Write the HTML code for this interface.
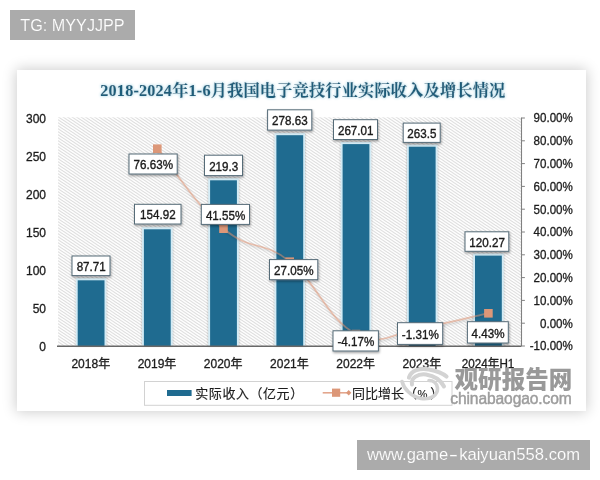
<!DOCTYPE html>
<html lang="zh"><head><meta charset="utf-8"><title>chart</title>
<style>
html,body{margin:0;padding:0;background:#fff;}
body{width:600px;height:480px;position:relative;overflow:hidden;font-family:"Liberation Sans","Noto Sans CJK SC",sans-serif;}
.tag{position:absolute;background:#ababab;color:#fff;white-space:nowrap;text-align:center;-webkit-text-stroke:0.15px #ababab;}
#t1{left:10px;top:10px;width:125px;height:30px;line-height:30px;font-size:16.2px;}
#t2{left:357px;top:440px;width:233px;height:30px;line-height:29px;font-size:16.6px;}
#t2 span{display:inline-block;width:11px;text-align:center;transform:scaleX(1.7);}
#card{position:absolute;left:17px;top:70px;width:569px;height:341px;background:#fff;box-shadow:0 0 13px 1px rgba(0,0,0,.2);}
svg{position:absolute;left:0;top:0;}
.ax{font-family:"Liberation Sans","Noto Sans CJK SC",sans-serif;font-size:12px;fill:#1c1c1c;stroke:#1c1c1c;stroke-width:0.3px;}
.xl{font-family:"Liberation Sans","Noto Sans CJK SC",sans-serif;font-size:12px;fill:#1c1c1c;stroke:#1c1c1c;stroke-width:0.3px;}
.dl{font-family:"Liberation Sans",sans-serif;font-size:12px;fill:#1a1a1a;stroke:#1a1a1a;stroke-width:0.35px;}
.ttl{font-family:"Liberation Serif","Noto Serif CJK SC",serif;font-weight:bold;font-size:16.2px;fill:#1e5d7a;stroke:#1e5d7a;stroke-width:0.2px;}
.lg{font-family:"Liberation Sans","Noto Sans CJK SC",sans-serif;font-size:13px;fill:#1c1c1c;stroke:#1c1c1c;stroke-width:0.15px;}
</style></head><body>
<div class="tag" id="t1">TG: MYYJJPP</div>
<div id="card"></div>
<svg width="600" height="480" viewBox="0 0 600 480">
<defs>
<pattern id="hatch" width="4.5" height="3" patternUnits="userSpaceOnUse">
<rect width="4.5" height="3" fill="#fff"/>
<path d="M-4.5,-3 L9,6 M-4.5,0 L4.5,6 M0,-3 L9,3" stroke="#d9d9d9" stroke-width="1"/>
</pattern>
<filter id="sh" x="-20%" y="-30%" width="140%" height="170%"><feDropShadow dx="0.6" dy="1.4" stdDeviation="1.1" flood-color="#000" flood-opacity="0.38"/></filter>
<filter id="bsh" x="-30%" y="-10%" width="160%" height="120%"><feDropShadow dx="0" dy="0" stdDeviation="0.9" flood-color="#000" flood-opacity="0.3"/></filter>
<filter id="lsh" x="-5%" y="-5%" width="110%" height="115%"><feDropShadow dx="0.5" dy="1.3" stdDeviation="0.8" flood-color="#000" flood-opacity="0.35"/></filter>
<filter id="glow" x="-5%" y="-50%" width="110%" height="200%"><feGaussianBlur in="SourceAlpha" stdDeviation="1.7" result="b"/><feFlood flood-color="#bfe3ef"/><feComposite in2="b" operator="in" result="g"/><feMerge><feMergeNode in="g"/><feMergeNode in="g"/><feMergeNode in="SourceGraphic"/></feMerge></filter>
</defs>

<rect x="58.0" y="117.3" width="463.5" height="228.7" fill="url(#hatch)"/>
<text class="ttl" x="100.3" y="95.6" textLength="405" lengthAdjust="spacing" filter="url(#glow)">2018-2024年1-6月我国电子竞技行业实际收入及增长情况</text>
<text class="ax" x="46" y="350.7" text-anchor="end">0</text>
<text class="ax" x="46" y="312.7" text-anchor="end">50</text>
<text class="ax" x="46" y="274.7" text-anchor="end">100</text>
<text class="ax" x="46" y="236.7" text-anchor="end">150</text>
<text class="ax" x="46" y="198.7" text-anchor="end">200</text>
<text class="ax" x="46" y="160.7" text-anchor="end">250</text>
<text class="ax" x="46" y="122.7" text-anchor="end">300</text>
<path d="M521.5,117.5 V346.0" stroke="#808080" stroke-width="1.1" fill="none"/>
<path d="M521.5,346.0 h3.4" stroke="#808080" stroke-width="1"/>
<text class="ax" transform="translate(572.8,350.4) scale(0.965,1)" text-anchor="end">-10.00%</text>
<path d="M521.5,323.2 h3.4" stroke="#808080" stroke-width="1"/>
<text class="ax" transform="translate(572.8,327.6) scale(0.965,1)" text-anchor="end">0.00%</text>
<path d="M521.5,300.4 h3.4" stroke="#808080" stroke-width="1"/>
<text class="ax" transform="translate(572.8,304.8) scale(0.965,1)" text-anchor="end">10.00%</text>
<path d="M521.5,277.6 h3.4" stroke="#808080" stroke-width="1"/>
<text class="ax" transform="translate(572.8,282.0) scale(0.965,1)" text-anchor="end">20.00%</text>
<path d="M521.5,254.8 h3.4" stroke="#808080" stroke-width="1"/>
<text class="ax" transform="translate(572.8,259.2) scale(0.965,1)" text-anchor="end">30.00%</text>
<path d="M521.5,232.0 h3.4" stroke="#808080" stroke-width="1"/>
<text class="ax" transform="translate(572.8,236.4) scale(0.965,1)" text-anchor="end">40.00%</text>
<path d="M521.5,209.2 h3.4" stroke="#808080" stroke-width="1"/>
<text class="ax" transform="translate(572.8,213.6) scale(0.965,1)" text-anchor="end">50.00%</text>
<path d="M521.5,186.4 h3.4" stroke="#808080" stroke-width="1"/>
<text class="ax" transform="translate(572.8,190.8) scale(0.965,1)" text-anchor="end">60.00%</text>
<path d="M521.5,163.6 h3.4" stroke="#808080" stroke-width="1"/>
<text class="ax" transform="translate(572.8,168.0) scale(0.965,1)" text-anchor="end">70.00%</text>
<path d="M521.5,140.8 h3.4" stroke="#808080" stroke-width="1"/>
<text class="ax" transform="translate(572.8,145.2) scale(0.965,1)" text-anchor="end">80.00%</text>
<path d="M521.5,118.0 h3.4" stroke="#808080" stroke-width="1"/>
<text class="ax" transform="translate(572.8,122.4) scale(0.965,1)" text-anchor="end">90.00%</text>
<rect x="75.9" y="278.3" width="30.400000000000002" height="67.7" fill="#d3ebf5" filter="url(#bsh)"/>
<rect x="77.7" y="280.3" width="26.8" height="65.7" fill="#1f6b90"/>
<rect x="142.1" y="227.3" width="30.400000000000002" height="118.7" fill="#d3ebf5" filter="url(#bsh)"/>
<rect x="143.9" y="229.3" width="26.8" height="116.7" fill="#1f6b90"/>
<rect x="208.3" y="178.3" width="30.400000000000002" height="167.7" fill="#d3ebf5" filter="url(#bsh)"/>
<rect x="210.1" y="180.3" width="26.8" height="165.7" fill="#1f6b90"/>
<rect x="274.6" y="133.2" width="30.400000000000002" height="212.8" fill="#d3ebf5" filter="url(#bsh)"/>
<rect x="276.4" y="135.2" width="26.8" height="210.8" fill="#1f6b90"/>
<rect x="340.8" y="142.1" width="30.400000000000002" height="203.9" fill="#d3ebf5" filter="url(#bsh)"/>
<rect x="342.6" y="144.1" width="26.8" height="201.9" fill="#1f6b90"/>
<rect x="407.0" y="144.7" width="30.400000000000002" height="201.3" fill="#d3ebf5" filter="url(#bsh)"/>
<rect x="408.8" y="146.7" width="26.8" height="199.3" fill="#1f6b90"/>
<rect x="473.2" y="253.6" width="30.400000000000002" height="92.4" fill="#d3ebf5" filter="url(#bsh)"/>
<rect x="475.0" y="255.6" width="26.8" height="90.4" fill="#1f6b90"/>
<path d="M57.0,346.2 H521.5" stroke="#686868" stroke-width="1.5"/>
<text class="xl" x="90.8" y="368.3" text-anchor="middle">2018年</text>
<text class="xl" x="157.0" y="368.3" text-anchor="middle">2019年</text>
<text class="xl" x="223.2" y="368.3" text-anchor="middle">2020年</text>
<text class="xl" x="289.4" y="368.3" text-anchor="middle">2021年</text>
<text class="xl" x="355.7" y="368.3" text-anchor="middle">2022年</text>
<text class="xl" x="421.9" y="368.3" text-anchor="middle">2023年</text>
<text class="xl" x="488.1" y="368.3" text-anchor="middle" textLength="52.5" lengthAdjust="spacingAndGlyphs">2024年H1</text>
<path d="M157.3,148.5 C171.1,165.1 195.9,204.9 223.5,228.5 C251.1,252.0 262.2,239.6 289.8,261.5 C317.3,283.5 328.4,320.2 356.0,333.9 C383.6,347.6 394.6,331.7 422.2,327.4 C449.8,323.1 474.6,316.1 488.4,313.1" stroke="#df9270" stroke-opacity="0.5" stroke-width="1.7" fill="none" filter="url(#lsh)"/>
<rect x="153.0" y="144.4" width="8.6" height="8.6" fill="#dc9778"/>
<rect x="219.2" y="224.4" width="8.6" height="8.6" fill="#dc9778"/>
<rect x="285.4" y="257.4" width="8.6" height="8.6" fill="#dc9778"/>
<rect x="351.7" y="329.8" width="8.6" height="8.6" fill="#dc9778"/>
<rect x="417.9" y="323.3" width="8.6" height="8.6" fill="#dc9778"/>
<rect x="484.1" y="309.0" width="8.6" height="8.6" fill="#dc9778"/>
<rect x="72" y="256" width="38" height="19.600000000000023" fill="#fff" stroke="#566c78" stroke-width="1" filter="url(#sh)"/>
<text class="dl" transform="translate(91.2,271.0) scale(0.97,1)" text-anchor="middle">87.71</text>
<rect x="134.5" y="204.3" width="46.5" height="19.69999999999999" fill="#fff" stroke="#566c78" stroke-width="1" filter="url(#sh)"/>
<text class="dl" transform="translate(157.9,219.3) scale(0.97,1)" text-anchor="middle">154.92</text>
<rect x="204.5" y="155.2" width="38.0" height="20.400000000000006" fill="#fff" stroke="#566c78" stroke-width="1" filter="url(#sh)"/>
<text class="dl" transform="translate(223.7,170.6) scale(0.97,1)" text-anchor="middle">219.3</text>
<rect x="267.6" y="109.8" width="44.19999999999999" height="20.299999999999997" fill="#fff" stroke="#566c78" stroke-width="1" filter="url(#sh)"/>
<text class="dl" transform="translate(289.9,125.1) scale(0.97,1)" text-anchor="middle">278.63</text>
<rect x="333.5" y="119.7" width="44.0" height="19.799999999999997" fill="#fff" stroke="#566c78" stroke-width="1" filter="url(#sh)"/>
<text class="dl" transform="translate(355.7,134.8) scale(0.97,1)" text-anchor="middle">267.01</text>
<rect x="403.2" y="123.1" width="37.0" height="19.30000000000001" fill="#fff" stroke="#566c78" stroke-width="1" filter="url(#sh)"/>
<text class="dl" transform="translate(421.9,137.9) scale(0.97,1)" text-anchor="middle">263.5</text>
<rect x="465" y="231.8" width="43.80000000000001" height="19.5" fill="#fff" stroke="#566c78" stroke-width="1" filter="url(#sh)"/>
<text class="dl" transform="translate(487.1,246.8) scale(0.97,1)" text-anchor="middle">120.27</text>
<rect x="129" y="154" width="48.19999999999999" height="20" fill="#fff" stroke="#566c78" stroke-width="1" filter="url(#sh)"/>
<text class="dl" transform="translate(153.3,169.2) scale(0.97,1)" text-anchor="middle">76.63%</text>
<rect x="201.3" y="204.4" width="48.19999999999999" height="20.0" fill="#fff" stroke="#566c78" stroke-width="1" filter="url(#sh)"/>
<text class="dl" transform="translate(225.6,219.6) scale(0.97,1)" text-anchor="middle">41.55%</text>
<rect x="269.5" y="259.6" width="48.30000000000001" height="20.099999999999966" fill="#fff" stroke="#566c78" stroke-width="1" filter="url(#sh)"/>
<text class="dl" transform="translate(293.8,274.8) scale(0.97,1)" text-anchor="middle">27.05%</text>
<rect x="333" y="330.8" width="45.39999999999998" height="20.19999999999999" fill="#fff" stroke="#566c78" stroke-width="1" filter="url(#sh)"/>
<text class="dl" transform="translate(355.9,346.1) scale(0.97,1)" text-anchor="middle">-4.17%</text>
<rect x="397.5" y="322.7" width="45.19999999999999" height="21.69999999999999" fill="#fff" stroke="#566c78" stroke-width="1" filter="url(#sh)"/>
<text class="dl" transform="translate(420.3,338.7) scale(0.97,1)" text-anchor="middle">-1.31%</text>
<rect x="467.4" y="321.7" width="40.900000000000034" height="21.30000000000001" fill="#fff" stroke="#566c78" stroke-width="1" filter="url(#sh)"/>
<text class="dl" transform="translate(488.1,337.6) scale(0.97,1)" text-anchor="middle">4.43%</text>
<rect x="144.5" y="381.5" width="307.5" height="23.8" fill="#fff" stroke="#d2d2d2" stroke-width="1"/>
<rect x="167" y="390" width="24.6" height="6" fill="#1f6b90"/>
<text class="lg" x="195.3" y="397.6" style="letter-spacing:0.55px">实际收入（亿元）</text>
<path d="M322.7,392.8 H349" stroke="#e3a68d" stroke-width="1.6"/>
<rect x="332" y="388.6" width="8.2" height="8.2" fill="#dc9778"/>
<path d="M348.7,390 l2.6,2.8 l-2.6,2.8 l-2.6,-2.8z" fill="#dc9778"/>
<text class="lg" x="352" y="397.6">同比增长（<tspan x="417.4" style="font-size:11.2px">%</tspan><tspan x="430.2">）</tspan></text>
<g>
<g fill="none" stroke="#d3d3d3" stroke-linecap="round"><path d="M409,377.5 C411,370.5 420,367.5 429,369.5 C437,371 443,373.5 446.5,376.5" stroke-width="4.2"/><path d="M412,384.5 C410.5,378 418,373.5 426,374.5 C435,376 441,380.5 444,386.5" stroke-width="4"/><path d="M402,381.5 C404,389 411,396.5 421,398.5 C431,400 438,395 437.5,388 C437,383 433,380.5 429,380.5" stroke-width="3.6"/></g>
<text x="454.6" y="387.6" style="font-family:'Liberation Sans','Noto Sans CJK SC',sans-serif;font-weight:900;font-size:23.6px;fill:#999" textLength="117.6" lengthAdjust="spacingAndGlyphs">观研报告网</text>
<text x="450.3" y="403.8" style="font-family:'Liberation Sans',sans-serif;font-size:15.6px;fill:#9d9d9d;stroke:#9d9d9d;stroke-width:0.45px" textLength="121.5" lengthAdjust="spacing">chinabaogao.com</text>
</g>
</svg>
<div class="tag" id="t2">www.game<span>-</span>kaiyuan558.com</div>
</body></html>
